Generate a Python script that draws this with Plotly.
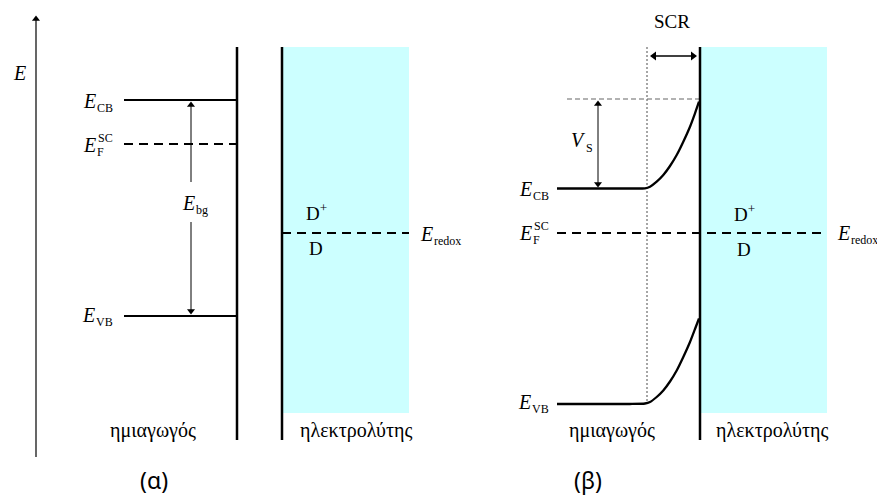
import plotly.graph_objects as go

# ---------------- data (diagram coordinates, y grows downward) ----------------
# Panel (α): flat bands
left_band_x = [124, 237]
left_levels = {"CB": 100, "F": 144, "VB": 316}
left_interface_x = 237
left_electrolyte_x = [282, 409]
redox_y = 233

# Panel (β): bent bands
cb_x = [557, 630, 645, 650, 656.7, 663.3, 670, 676.7, 683.3, 690, 695, 699]
cb_y = [188.5, 188.5, 188.3, 186.7, 181.7, 175, 166, 155, 141.7, 126.7, 113.3, 101.7]
vb_x = [557, 630, 645, 650, 656.7, 663.3, 670, 676.7, 683.3, 690, 695, 699]
vb_y = [404, 404, 403.5, 402, 397, 390.5, 381.5, 370.5, 357, 342, 329, 318.5]
right_fermi_x = [557, 827]
right_interface_x = 700
right_electrolyte_x = [700, 827]
scr_edge_x = 647
vs_top_y = 99

panel_top, panel_bottom, cyan_bottom = 47, 440, 413

CYAN = "#ccffff"
SERIF = "Liberation Serif, DejaVu Serif, serif"
SANS = "Noto Sans, Open Sans, sans-serif"

fig = go.Figure()


def line(x, y, width=2, dash=None, color="black", shape="linear"):
    fig.add_trace(go.Scatter(x=x, y=y, mode="lines", hoverinfo="skip",
                             line=dict(color=color, width=width, dash=dash, shape=shape,
                                       smoothing=0.6),
                             showlegend=False))


def heads(xs, ys, symbols, size=7):
    fig.add_trace(go.Scatter(x=xs, y=ys, mode="markers", hoverinfo="skip", showlegend=False,
                             marker=dict(symbol=symbols, size=size, color="black",
                                         line=dict(width=0))))


# cyan electrolyte regions
for x0, x1 in (left_electrolyte_x, right_electrolyte_x):
    fig.add_shape(type="rect", x0=x0, x1=x1, y0=panel_top, y1=cyan_bottom,
                  fillcolor=CYAN, line=dict(width=0), layer="below")

# ---- panel α ----
line([36, 36], [457, 20], width=1.2)
heads([36], [19], ["triangle-up"], size=7)
line([left_interface_x] * 2, [panel_top, panel_bottom], width=2.5)
line([left_electrolyte_x[0]] * 2, [panel_top, panel_bottom], width=2.5)
line(left_band_x, [left_levels["CB"]] * 2, width=2.2)
line(left_band_x, [left_levels["VB"]] * 2, width=2.2)
line(left_band_x, [left_levels["F"]] * 2, width=2.2, dash="9px,6px")
line(left_electrolyte_x, [redox_y] * 2, width=2.2, dash="9px,6px")
# band-gap arrow (broken around its label)
line([191, 191], [182, 106], width=1)
line([191, 191], [222, 310], width=1)
heads([191, 191], [105, 311], ["triangle-up", "triangle-down"], size=7)

# ---- panel β ----
line([scr_edge_x] * 2, [panel_top, 404], width=1.3, dash="2px,2px", color="#777777")
line([567, right_interface_x], [vs_top_y] * 2, width=1.2, dash="5px,3px", color="#666666")
line([right_interface_x] * 2, [panel_top, panel_bottom], width=2.5)
line(cb_x, cb_y, width=2.3, shape="spline")
line(vb_x, vb_y, width=2.3, shape="spline")
line(right_fermi_x, [redox_y] * 2, width=2.2, dash="9px,6px")
# V_S arrow
line([598, 598], [104, 183], width=1)
heads([598, 598], [104, 184], ["triangle-up", "triangle-down"], size=7)
# SCR arrow
line([654, 693], [56, 56], width=1.6)
heads([654, 693], [56, 56], ["triangle-left", "triangle-right"], size=8)


def text(x, y, s, size=20, font=SERIF, italic=False, xanchor="center", yanchor="middle"):
    fig.add_annotation(x=x, y=y, xref="x", yref="y", text=f"<i>{s}</i>" if italic else s,
                       showarrow=False, xanchor=xanchor, yanchor=yanchor,
                       font=dict(family=font, size=size, color="black"))


def elabel(x, y, sub=None, sup=None, size=20, dx=6):
    text(x, y, "E", size=size, italic=True)
    if sub:
        text(x + dx, y + 7, sub, size=12, xanchor="left")
    if sup:
        text(x + dx + 1, y - 7, sup, size=12, xanchor="left")


text(19, 73, "E", size=20, italic=True)
elabel(89, 101, "CB")
elabel(89, 145, "F", "SC")
elabel(88, 315, "VB")
elabel(188, 203, "bg", dx=6)
elabel(426, 234, "redox")
text(316, 212, "D<sup>+</sup>", size=19)
text(316, 248, "D", size=19)
text(153, 430, "ημιαγωγός", size=20)
text(356, 430, "ηλεκτρολύτης", size=20)
text(154, 480, "(α)", size=23, font=SANS)

text(672, 21, "SCR", size=19)
text(578, 140, "V", size=20, italic=True)
text(584, 148, "S", size=12, xanchor="left")
elabel(525, 189, "CB")
elabel(525, 233, "F", "SC")
elabel(524, 402, "VB")
elabel(843, 233, "redox")
text(744, 213, "D<sup>+</sup>", size=19)
text(744, 249, "D", size=19)
text(612, 430, "ημιαγωγός", size=20)
text(772, 430, "ηλεκτρολύτης", size=20)
text(588, 480, "(β)", size=23, font=SANS)

fig.update_layout(width=877, height=497, margin=dict(l=0, r=0, t=0, b=0),
                  paper_bgcolor="white", plot_bgcolor="white")
fig.update_xaxes(range=[0, 877], visible=False, fixedrange=True)
fig.update_yaxes(range=[497, 0], visible=False, fixedrange=True)

fig.write_html("out.html", config={"displayModeBar": False},
               post_script="document.body.style.margin='0';document.body.style.overflow='hidden';")
